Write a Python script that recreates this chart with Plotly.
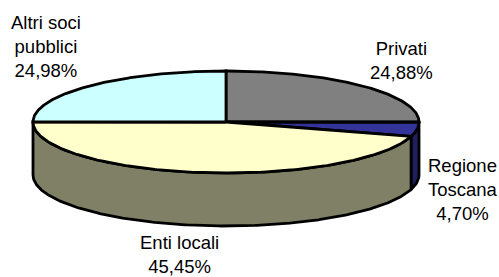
import numpy as np
import plotly.graph_objects as go

# ---- data ----
categories = ["Privati", "Regione Toscana", "Enti locali", "Altri soci pubblici"]
label_lines = ["Privati", "Regione<br>Toscana", "Enti locali", "Altri soci<br>pubblici"]
values = [24.88, 4.70, 45.45, 24.98]

# ---- styles / geometry (not data) ----
top_colors = ["#808080", "#333399", "#FFFFCC", "#CCFFFF"]
side_colors = ["#666666", "#1f1f5e", "#808066", "#a3cccc"]
label_pos = [(401, 60), (463, 189), (179, 254), (46, 46)]

W, H = 499, 277
cx, cy, rx, ry, depth = 226, 122, 193, 51, 53

total = sum(values)
bounds = np.concatenate([[0], np.cumsum(values)]) / total * 360.0

def pt(a, dz=0.0):
    r = np.radians(a)
    return cx + rx * np.sin(r), cy - ry * np.cos(r) + dz

def arc(a1, a2, dz=0.0):
    n = max(int(abs(a2 - a1) * 1.5), 4)
    aa = np.linspace(a1, a2, n)
    xs, ys = pt(aa, dz)
    return list(xs), list(ys)

fig = go.Figure()

# side walls (front half 90..270)
for i in range(len(values)):
    a1, a2 = bounds[i], bounds[i + 1]
    s1, s2 = max(a1, 90), min(a2, 270)
    if s2 <= s1:
        continue
    tx, ty = arc(s1, s2)
    bx, by = arc(s2, s1, depth)
    fig.add_trace(go.Scatter(
        x=tx + bx + [tx[0]], y=ty + by + [ty[0]],
        mode="lines", fill="toself", fillcolor=side_colors[i],
        line=dict(color="black", width=2.8), hoverinfo="skip", showlegend=False))

# top slices
for i in range(len(values)):
    a1, a2 = bounds[i], bounds[i + 1]
    ax, ay = arc(a1, a2)
    fig.add_trace(go.Scatter(
        x=[cx] + ax + [cx], y=[cy] + ay + [cy],
        mode="lines", fill="toself", fillcolor=top_colors[i],
        line=dict(color="black", width=2.8), hoverinfo="skip", showlegend=False))

for i in range(len(values)):
    pct = f"{values[i]:.2f}".replace(".", ",") + "%"
    x, y = label_pos[i]
    fig.add_annotation(x=x, y=y, xref="x", yref="y", text=f"{label_lines[i]}<br>{pct}",
                       showarrow=False, align="center",
                       font=dict(family="Arial, Liberation Sans, sans-serif", size=18.5, color="#000000"))

fig.update_layout(
    width=W, height=H, margin=dict(l=0, r=0, t=0, b=0),
    paper_bgcolor="white", plot_bgcolor="white",
    xaxis=dict(range=[0, W], visible=False, fixedrange=True),
    yaxis=dict(range=[H, 0], visible=False, fixedrange=True),
    showlegend=False,
)
fig.write_html("out.html", config={"displayModeBar": False},
               post_script="document.body.style.margin='0';document.body.style.overflow='hidden';")
